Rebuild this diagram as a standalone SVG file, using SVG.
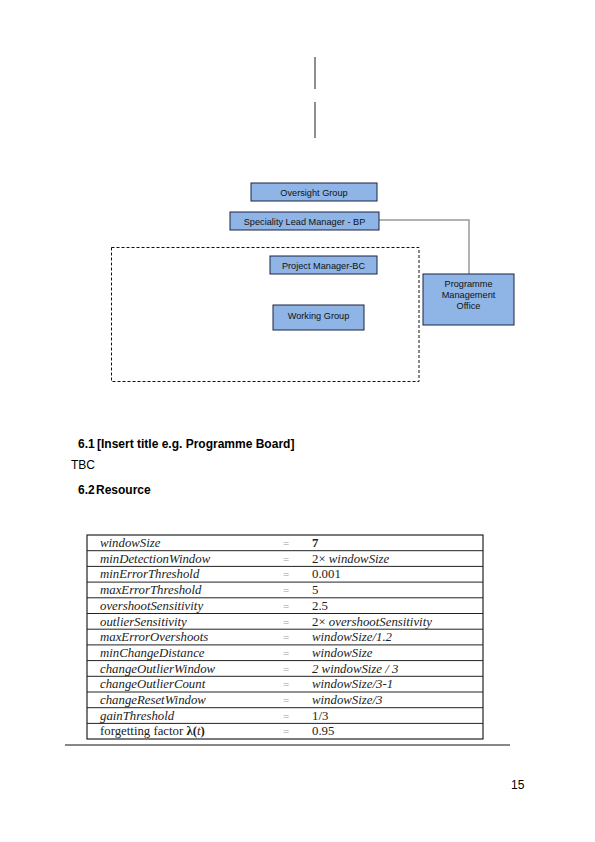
<svg xmlns="http://www.w3.org/2000/svg" width="595" height="842" viewBox="0 0 595 842">
<style>
.box{fill:#8fb5e6;stroke:#1a2340;stroke-width:1}
.bt{font-family:"Liberation Sans",Arial,sans-serif;font-size:9.2px;fill:#111;text-anchor:middle}
.h{font-family:"Liberation Sans",Arial,sans-serif;font-size:12px;font-weight:bold;fill:#000}
.p{font-family:"Liberation Sans",Arial,sans-serif;font-size:12px;fill:#000}
.n{font-family:"Liberation Serif","Times New Roman",serif;font-size:12.8px;font-style:italic;fill:#222}
.v{font-family:"Liberation Serif","Times New Roman",serif;font-size:12.8px;fill:#222}
.eq{font-family:"Liberation Serif",serif;font-size:11px;fill:#999}
.rl{stroke:#222;stroke-width:1}
</style>
<rect width="595" height="842" fill="#fff"/>
<g id="connectors">
<line x1="315" y1="57" x2="315" y2="89" stroke="#444" stroke-width="1.2"/>
<line x1="315" y1="102" x2="315" y2="138" stroke="#444" stroke-width="1.2"/>
<polyline points="379,220 469,220 469,274" fill="none" stroke="#999" stroke-width="1.5"/>
</g>
<g id="dashed-group">
<rect x="111.5" y="247.5" width="307.5" height="134" fill="none" stroke="#111" stroke-width="1" stroke-dasharray="3,2"/>
</g>
<g id="oversight-group">
<rect class="box" x="251" y="183" width="126" height="18"/>
<text class="bt" x="314" y="195.5">Oversight Group</text>
</g>
<g id="speciality-lead">
<rect class="box" x="230" y="212" width="149" height="18"/>
<text class="bt" x="304.5" y="224.5">Speciality Lead Manager - BP</text>
</g>
<g id="project-manager">
<rect class="box" x="270" y="256" width="107" height="18"/>
<text class="bt" x="323.5" y="268.5">Project Manager-BC</text>
</g>
<g id="working-group">
<rect class="box" x="273" y="305" width="91" height="25"/>
<text class="bt" x="318.5" y="319">Working Group</text>
</g>
<g id="pmo">
<rect class="box" x="423" y="274" width="91" height="51"/>
<text class="bt" x="468.5" y="286.5">Programme</text>
<text class="bt" x="468.5" y="297.5">Management</text>
<text class="bt" x="468.5" y="308.5">Office</text>
</g>
<g id="text">
<text class="h" x="78" y="448">6.1</text>
<text class="h" x="97" y="448">[Insert title e.g. Programme Board]</text>
<text class="p" x="71" y="469">TBC</text>
<text class="h" x="78" y="494">6.2</text>
<text class="h" x="96" y="494">Resource</text>
<text class="p" x="511" y="789">15</text>
</g>
<g id="table">
<rect x="87" y="535" width="396" height="204" fill="#fff" stroke="#222" stroke-width="1.2"/>
<g class="rl">
<line x1="87" y1="550.7" x2="483" y2="550.7"/>
<line x1="87" y1="566.4" x2="483" y2="566.4"/>
<line x1="87" y1="582.1" x2="483" y2="582.1"/>
<line x1="87" y1="597.8" x2="483" y2="597.8"/>
<line x1="87" y1="613.5" x2="483" y2="613.5"/>
<line x1="87" y1="629.2" x2="483" y2="629.2"/>
<line x1="87" y1="644.9" x2="483" y2="644.9"/>
<line x1="87" y1="660.6" x2="483" y2="660.6"/>
<line x1="87" y1="676.3" x2="483" y2="676.3"/>
<line x1="87" y1="692" x2="483" y2="692"/>
<line x1="87" y1="707.7" x2="483" y2="707.7"/>
<line x1="87" y1="723.4" x2="483" y2="723.4"/>
</g>
<text class="n" x="100" y="547">windowSize</text>
<text class="n" x="100" y="562.7">minDetectionWindow</text>
<text class="n" x="100" y="578.4">minErrorThreshold</text>
<text class="n" x="100" y="594.1">maxErrorThreshold</text>
<text class="n" x="100" y="609.8">overshootSensitivity</text>
<text class="n" x="100" y="625.5">outlierSensitivity</text>
<text class="n" x="100" y="641.2">maxErrorOvershoots</text>
<text class="n" x="100" y="656.9">minChangeDistance</text>
<text class="n" x="100" y="672.6">changeOutlierWindow</text>
<text class="n" x="100" y="688.3">changeOutlierCount</text>
<text class="n" x="100" y="704">changeResetWindow</text>
<text class="n" x="100" y="719.7">gainThreshold</text>
<text class="v" x="100" y="735.4">forgetting factor <tspan font-weight="bold">λ(</tspan><tspan font-style="italic">t</tspan><tspan font-weight="bold">)</tspan></text>
<g class="eq">
<text x="283" y="547">=</text><text x="283" y="562.7">=</text><text x="283" y="578.4">=</text><text x="283" y="594.1">=</text><text x="283" y="609.8">=</text><text x="283" y="625.5">=</text><text x="283" y="641.2">=</text><text x="283" y="656.9">=</text><text x="283" y="672.6">=</text><text x="283" y="688.3">=</text><text x="283" y="704">=</text><text x="283" y="719.7">=</text><text x="283" y="735.4">=</text>
</g>
<text class="v" x="312" y="547" font-weight="bold">7</text>
<text class="v" x="312" y="562.7">2× <tspan font-style="italic">windowSize</tspan></text>
<text class="v" x="312" y="578.4">0.001</text>
<text class="v" x="312" y="594.1">5</text>
<text class="v" x="312" y="609.8">2.5</text>
<text class="v" x="312" y="625.5">2× <tspan font-style="italic">overshootSensitivity</tspan></text>
<text class="n" x="312" y="641.2">windowSize/1.2</text>
<text class="n" x="312" y="656.9">windowSize</text>
<text class="n" x="312" y="672.6">2 windowSize / 3</text>
<text class="n" x="312" y="688.3">windowSize/3-1</text>
<text class="n" x="312" y="704">windowSize/3</text>
<text class="v" x="312" y="719.7">1/3</text>
<text class="v" x="312" y="735.4">0.95</text>
</g>
<line x1="65" y1="745" x2="510" y2="745" stroke="#111" stroke-width="1"/>
</svg>
